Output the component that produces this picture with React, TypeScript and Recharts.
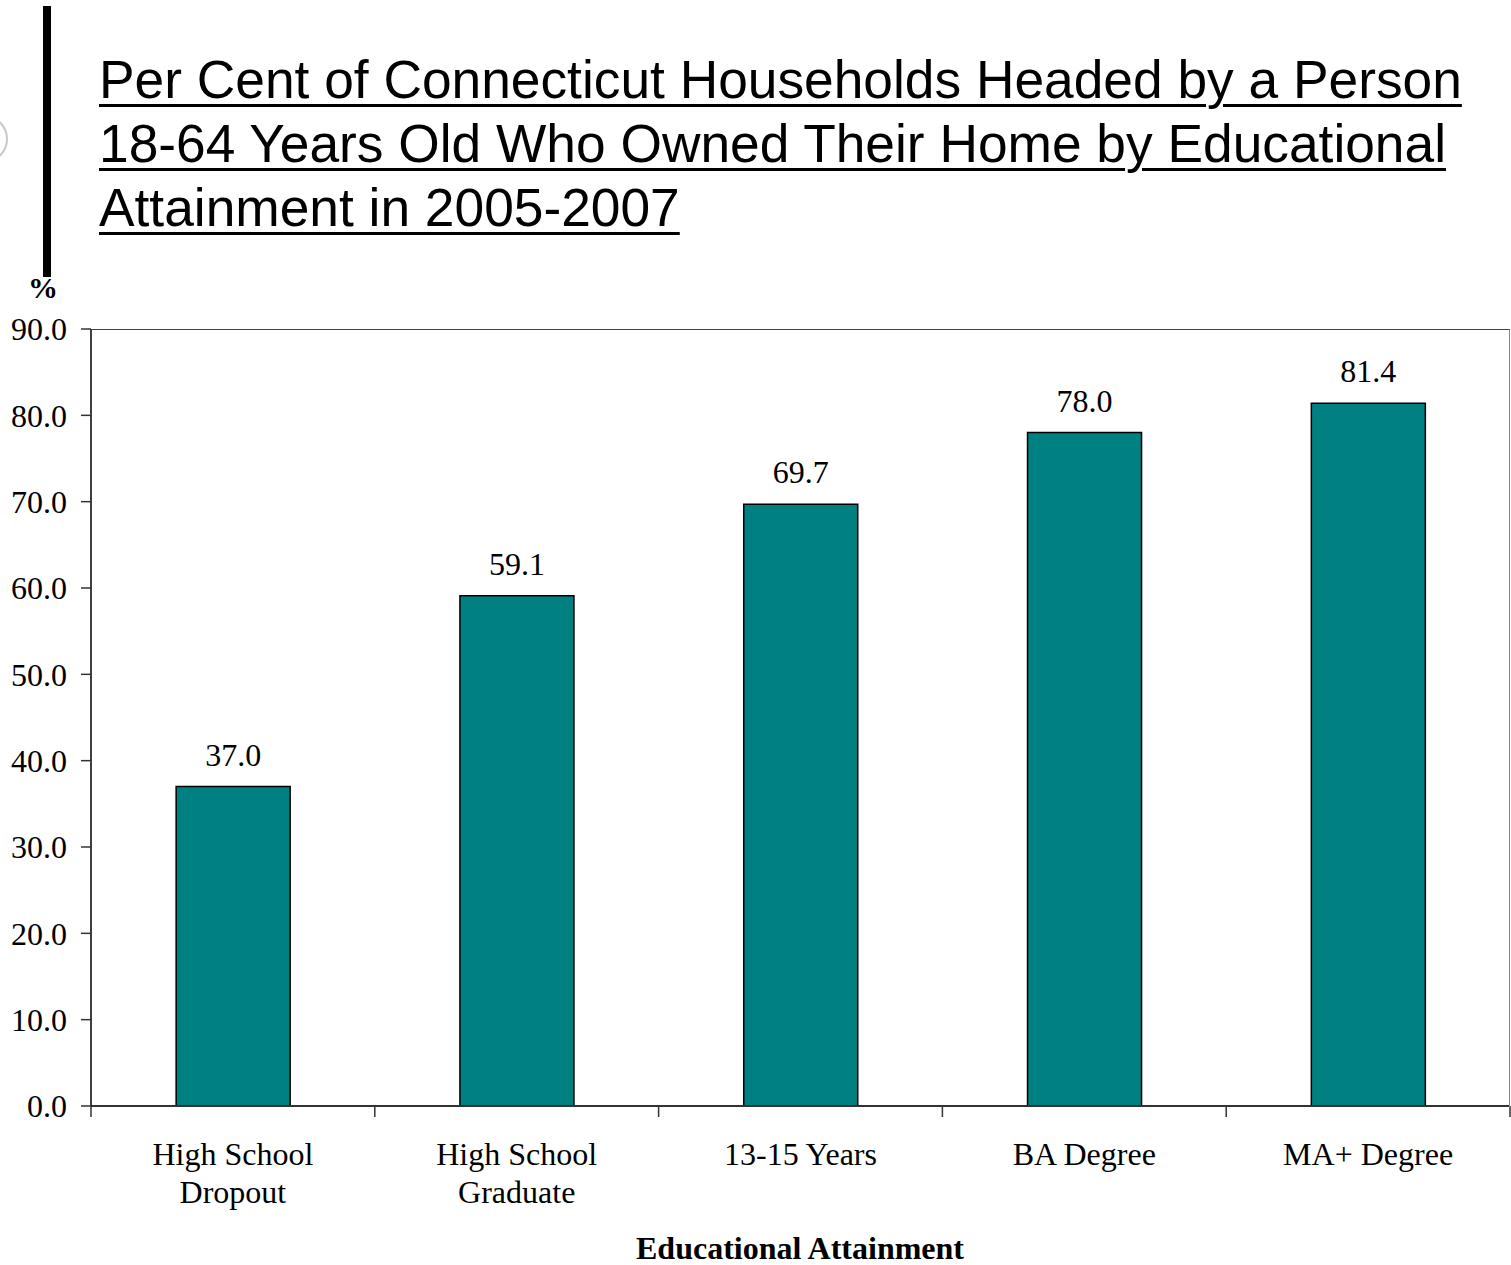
import React from 'react';
import {Bar, BarChart, LabelList, XAxis, YAxis} from 'recharts';

const categories = ['High School\nDropout', 'High School\nGraduate', '13-15 Years', 'BA Degree', 'MA+ Degree'];
const ownershipPct = [37.0, 59.1, 69.7, 78.0, 81.4];
const yTicks = [0, 10, 20, 30, 40, 50, 60, 70, 80, 90];

const titleLines = [
    'Per Cent of Connecticut Households Headed by a Person',
    '18-64 Years Old Who Owned Their Home by Educational',
    'Attainment in 2005-2007',
];

const data = categories.map((name, i) => ({name, value: ownershipPct[i]}));

const W = 1511;
const H = 1265;
const plot = {left: 91, top: 329, right: 1510, bottom: 1106};
const step = (plot.right - plot.left) / categories.length;
const serif = '"Liberation Serif", "Times New Roman", serif';
const sans = '"Liberation Sans", Arial, sans-serif';

const CategoryTick = (props: any) => {
    const {x, y, payload, index} = props;
    const lines: string[] = String(payload.value).split('\n');
    const left = x - step / 2;
    return (
        <g>
            <line x1={left} x2={left} y1={y} y2={y + 11} stroke="#333" strokeWidth={1.5}/>
            {index === categories.length - 1 && (
                <line x1={x + step / 2} x2={x + step / 2} y1={y} y2={y + 11} stroke="#333" strokeWidth={1.5}/>
            )}
            {lines.map((t, i) => (
                <text key={i} x={x} y={y + 59 + i * 38} textAnchor="middle"
                      fontFamily={serif} fontSize={32} fill="#000">{t}</text>
            ))}
        </g>
    );
};

export default function App() {
    return (
        <div style={{position: 'absolute', left: 0, top: 0, width: W, height: H, background: 'white', overflow: 'hidden'}}>
            <div style={{position: 'absolute', left: -40, top: 115, width: 44, height: 44, borderRadius: '50%', border: '2px solid #c8c8c8'}}/>
            <div style={{position: 'absolute', left: 43, top: 6, width: 8, height: 271, background: '#000'}}/>
            <div style={{
                position: 'absolute', left: 99, top: 48, fontFamily: sans, fontSize: 53.3, lineHeight: '64px',
                color: '#000', whiteSpace: 'nowrap',
            }}>
                {titleLines.map((t, i) => (
                    <div key={i}>
                        <span style={{textDecoration: 'underline', textDecorationThickness: '3px', textUnderlineOffset: '6px'}}>{t}</span>
                    </div>
                ))}
            </div>
            <div style={{position: 'absolute', left: 28, top: 273, fontFamily: serif, fontWeight: 'bold', fontSize: 30, lineHeight: '30px'}}>%</div>
            <BarChart width={W} height={H} data={data}
                      margin={{top: plot.top, right: W - plot.right, left: 0, bottom: 59}}
                      barCategoryGap="30%">
                <XAxis dataKey="name" height={H - plot.bottom - 59} tick={<CategoryTick/>}
                       tickLine={false} tickSize={0} tickMargin={0} interval={0}
                       axisLine={{stroke: '#333', strokeWidth: 2}}/>
                <YAxis domain={[0, 90]} ticks={yTicks} width={plot.left} interval={0}
                       tickFormatter={(v: number) => v.toFixed(1)}
                       tick={{fontFamily: serif, fontSize: 32, fill: '#000'}}
                       tickSize={10} tickMargin={14}
                       tickLine={{stroke: '#333', strokeWidth: 1.5}}
                       axisLine={{stroke: '#000', strokeWidth: 1.5}}/>
                <Bar dataKey="value" fill="#008080" stroke="#000" strokeWidth={1.5} isAnimationActive={false}>
                    <LabelList dataKey="value" position="top" offset={21}
                               formatter={(v: any) => Number(v).toFixed(1)}
                               style={{fontFamily: serif, fontSize: 32, fill: '#000'}}/>
                </Bar>
            </BarChart>
            <div style={{
                position: 'absolute', left: plot.left, top: plot.top, width: plot.right - plot.left - 1,
                height: plot.bottom - plot.top, borderTop: '1.5px solid #444', borderRight: '1.5px solid #888',
                pointerEvents: 'none',
            }}/>
            <div style={{
                position: 'absolute', left: 0, width: 1600, top: 1232, textAlign: 'center', fontFamily: serif,
                fontWeight: 'bold', fontSize: 32, lineHeight: '32px',
            }}>Educational Attainment</div>
        </div>
    );
}
